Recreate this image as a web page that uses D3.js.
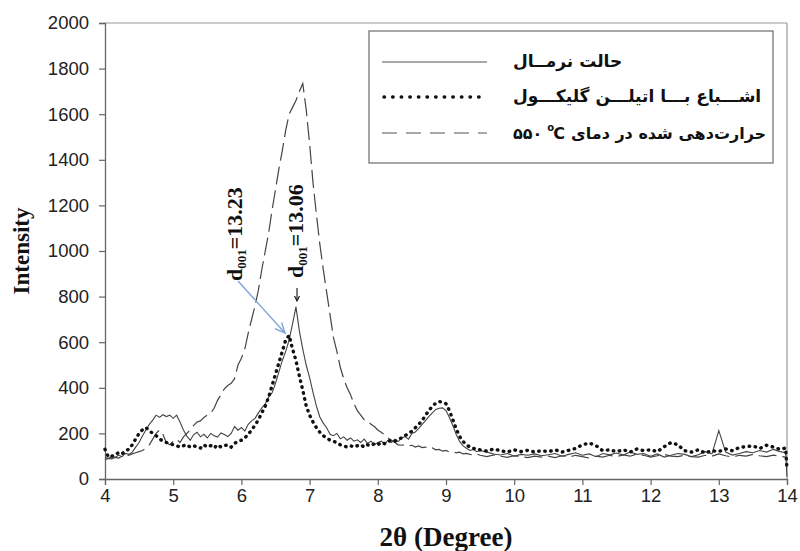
<!DOCTYPE html>
<html><head><meta charset="utf-8">
<script src="https://cdn.jsdelivr.net/npm/d3@7"></script>
<style>body{margin:0;background:#fff}svg{display:block}</style>
</head><body>
<svg id="chart" width="800" height="551"></svg>
<script>
// 2θ sampling positions
const xs = [
 4,4.05,4.1,4.15,4.2,4.25,4.3,4.35,4.4,4.45,
 4.5,4.55,4.6,4.65,4.7,4.75,4.8,4.85,4.9,4.95,
 5,5.05,5.1,5.15,5.2,5.25,5.3,5.35,5.4,5.45,
 5.5,5.55,5.6,5.65,5.7,5.75,5.8,5.85,5.9,5.95,
 6,6.05,6.1,6.15,6.2,6.25,6.3,6.35,6.4,6.45,
 6.5,6.55,6.6,6.65,6.7,6.75,6.8,6.85,6.9,6.95,
 7,7.05,7.1,7.15,7.2,7.25,7.3,7.35,7.4,7.45,
 7.5,7.55,7.6,7.65,7.7,7.75,7.8,7.85,7.9,7.95,
 8,8.05,8.1,8.15,8.2,8.25,8.3,8.35,8.4,8.45,
 8.5,8.55,8.6,8.65,8.7,8.75,8.8,8.85,8.9,8.95,
 9,9.05,9.1,9.15,9.2,9.25,9.3,9.35,9.4,9.45,
 9.5,9.6,9.7,9.8,9.9,10,10.1,10.2,10.3,10.4,
 10.5,10.6,10.7,10.8,10.9,11,11.1,11.2,11.3,11.4,
 11.5,11.6,11.7,11.8,11.9,12,12.1,12.2,12.3,12.4,
 12.5,12.6,12.7,12.8,12.9,13,13.1,13.2,13.3,13.4,
 13.5,13.6,13.7,13.8,13.9,13.98,14
];
// حالت نرمال (solid)
const normal = [
 95,90,100,95,105,98,112,108,118,140,
 160,190,215,240,258,280,270,282,274,280,
 266,280,250,215,188,170,195,205,185,196,
 180,200,190,184,202,195,186,200,230,214,
 226,210,240,255,266,290,312,330,360,378,
 420,470,520,560,610,680,755,650,570,500,
 445,380,320,272,245,225,196,190,200,176,
 185,170,180,166,172,160,175,156,166,150,
 160,166,154,170,160,175,164,180,186,175,
 200,206,222,240,256,275,290,305,310,312,
 300,270,235,195,165,145,135,125,130,120,
 125,118,110,105,112,100,108,104,110,102,
 106,112,100,108,115,104,110,98,112,106,
 114,105,118,108,112,100,110,96,104,112,
 108,98,106,120,110,212,118,105,112,120,
 115,125,118,130,120,115,10
];
// اشباع با اتیلن گلیکول (dotted)
const glycol = [
 130,96,100,106,116,110,125,130,150,176,
 200,216,226,212,200,190,176,166,160,156,
 150,146,140,146,150,140,146,140,136,150,
 140,146,136,150,140,146,150,140,156,166,
 170,180,196,215,236,260,290,320,360,410,
 460,510,560,610,630,570,520,450,390,320,
 280,250,225,205,190,180,170,165,160,150,
 145,140,146,140,146,150,140,150,146,155,
 150,160,155,165,170,165,175,180,190,200,
 210,225,240,256,280,300,320,332,340,336,
 330,300,260,220,186,165,150,140,135,130,
 128,122,132,124,118,128,120,126,118,124,
 120,128,118,126,134,150,158,146,124,128,
 120,128,118,132,124,128,120,142,160,150,
 124,118,128,114,124,120,132,124,138,142,
 145,134,148,140,130,136,40
];
// حرارت‌دهی شده در دمای ۵۵۰ °C (dashed)
const heated = [
 85,90,88,95,92,100,98,105,110,115,
 120,125,135,150,175,200,215,195,160,150,
 165,175,160,185,200,215,235,250,255,270,
 280,290,310,345,370,395,410,420,440,500,
 530,570,640,700,760,830,920,1000,1080,1180,
 1270,1360,1440,1530,1600,1630,1660,1700,1735,1620,
 1470,1300,1160,1030,920,820,720,620,560,490,
 440,400,370,330,300,280,260,255,240,230,
 215,205,195,180,170,160,150,148,150,145,
 148,140,145,138,140,132,136,128,130,122,
 125,118,120,115,118,110,112,108,105,110,
 104,98,106,100,95,102,98,94,100,96,
 100,94,102,96,104,98,92,100,96,104,
 98,106,100,110,104,96,102,108,100,98,
 104,98,96,104,100,110,102,96,104,100,
 108,102,98,105,100,96,95
];
const xTicks = [4,5,6,7,8,9,10,11,12,13,14];
const yTicks = [0,200,400,600,800,1000,1200,1400,1600,1800,2000];
const legendLabels = ["حالت نرمــال", "اشـــباع بـــا اتیلـــن گلیکـــول", "حرارت‌دهی شده در دمای"];
const legendTemp = "۵۵۰";
const annotations = [
  {peak: 13.23, label: "=13.23"},
  {peak: 13.06, label: "=13.06"}
];

const svg = d3.select("#chart");
const L = 105, R = 787, T = 23, B = 479;
const x = d3.scaleLinear().domain([4, 14]).range([L, R]);
const y = d3.scaleLinear().domain([0, 2000]).range([B, T]);

// frame (top/right)
svg.append("line").attr("x1", L).attr("x2", R).attr("y1", T).attr("y2", T).attr("stroke", "#999").attr("stroke-width", 1.2);
svg.append("line").attr("x1", R).attr("x2", R).attr("y1", T).attr("y2", B).attr("stroke", "#999").attr("stroke-width", 1.2);

const tickFont = "Liberation Sans, Arial, sans-serif";
const gx = svg.append("g").attr("transform", `translate(0,${B})`)
  .call(d3.axisBottom(x).tickValues(xTicks).tickSize(6).tickPadding(4).tickFormat(d3.format("d")));
const gy = svg.append("g").attr("transform", `translate(${L},0)`)
  .call(d3.axisLeft(y).tickValues(yTicks).tickSize(6).tickPadding(10).tickFormat(d3.format("d")));
[gx, gy].forEach(g => {
  g.select(".domain").attr("stroke", "#666").attr("stroke-width", 1.3);
  g.selectAll(".tick line").attr("stroke", "#666").attr("stroke-width", 1.2);
  g.selectAll(".tick text").attr("font-family", tickFont).attr("font-size", 18.5).attr("fill", "#222");
});

// series
const pts = arr => xs.map((v, i) => [v, arr[i]]);
const line = d3.line().x(d => x(d[0])).y(d => y(d[1]));
svg.append("path").datum(pts(heated)).attr("d", line).attr("fill", "none")
  .attr("stroke", "#444").attr("stroke-width", 1.2).attr("stroke-dasharray", "18,6");
svg.append("path").datum(pts(normal)).attr("d", line).attr("fill", "none")
  .attr("stroke", "#444").attr("stroke-width", 1.1);
svg.append("path").datum(pts(glycol)).attr("d", line).attr("fill", "none")
  .attr("stroke", "#111").attr("stroke-width", 3.4).attr("stroke-linecap", "round")
  .attr("stroke-dasharray", "0.5,5.6");

// axis titles
const serif = "Liberation Serif, Times New Roman, serif";
svg.append("text").attr("x", (L + R) / 2).attr("y", 546).attr("text-anchor", "middle")
  .attr("font-family", serif).attr("font-weight", "bold")
  .attr("font-size", 27).attr("fill", "#111").text("2θ (Degree)");
svg.append("text").attr("transform", `translate(29,${(T + B) / 2}) rotate(-90)`).attr("text-anchor", "middle")
  .attr("font-family", serif).attr("font-weight", "bold")
  .attr("font-size", 23).attr("fill", "#111").text("Intensity");

// annotations
const annPos = [[242, 281], [303, 278]];
annotations.forEach((a, i) => {
  const t = svg.append("text").attr("transform", `translate(${annPos[i][0]},${annPos[i][1]}) rotate(-90)`)
    .attr("font-family", serif).attr("font-weight", "bold").attr("font-size", 22).attr("fill", "#111");
  t.append("tspan").text("d");
  t.append("tspan").attr("font-size", 13).attr("dy", 4).text("001");
  t.append("tspan").attr("dy", -4).text(a.label);
});
// blue arrow to glycol peak
const ax0 = 238, ay0 = 281, ax1 = 285, ay1 = 333;
svg.append("line").attr("x1", ax0).attr("y1", ay0).attr("x2", ax1).attr("y2", ay1)
  .attr("stroke", "#7fa6d6").attr("stroke-width", 1.4);
const ang = Math.atan2(ay1 - ay0, ax1 - ax0);
const hl = 11, ha = 0.42;
svg.append("path").attr("d",
  `M${ax1 - hl * Math.cos(ang - ha)},${ay1 - hl * Math.sin(ang - ha)}L${ax1},${ay1}L${ax1 - hl * Math.cos(ang + ha)},${ay1 - hl * Math.sin(ang + ha)}`)
  .attr("fill", "none").attr("stroke", "#7fa6d6").attr("stroke-width", 1.4);
// small black arrow to normal peak
svg.append("line").attr("x1", 297).attr("y1", 288).attr("x2", 297).attr("y2", 300).attr("stroke", "#111").attr("stroke-width", 1.1);
svg.append("path").attr("d", "M294.5,296L297,301L299.5,296").attr("fill", "none").attr("stroke", "#111").attr("stroke-width", 1.1);

// legend
const lg = svg.append("g");
lg.append("rect").attr("x", 369).attr("y", 31).attr("width", 404).attr("height", 132)
  .attr("fill", "#fff").attr("stroke", "#777").attr("stroke-width", 1.3);
const rowY = [62, 97, 133];
const pers = "DejaVu Sans, sans-serif";
const fs = 17;
lg.append("line").attr("x1", 382).attr("x2", 487).attr("y1", rowY[0]).attr("y2", rowY[0]).attr("stroke", "#555").attr("stroke-width", 1.2);
lg.append("line").attr("x1", 384).attr("x2", 487).attr("y1", rowY[1]).attr("y2", rowY[1]).attr("stroke", "#111")
  .attr("stroke-width", 3.4).attr("stroke-linecap", "round").attr("stroke-dasharray", "0.5,8.1");
lg.append("line").attr("x1", 382).attr("x2", 487).attr("y1", rowY[2]).attr("y2", rowY[2]).attr("stroke", "#555")
  .attr("stroke-width", 1.2).attr("stroke-dasharray", "15,9");
lg.append("text").attr("x", 513).attr("y", rowY[0] + 5).attr("font-family", pers).attr("font-weight", "bold")
  .attr("font-size", fs).attr("fill", "#111").text(legendLabels[0]);
lg.append("text").attr("x", 513).attr("y", rowY[1] + 5).attr("font-family", pers).attr("font-weight", "bold")
  .attr("font-size", fs).attr("fill", "#111").text(legendLabels[1]);
const tNum = lg.append("text").attr("x", 513).attr("y", rowY[2] + 6).attr("font-family", pers).attr("font-weight", "bold")
  .attr("font-size", 16).attr("fill", "#111").text(legendTemp);
const nw = tNum.node().getComputedTextLength();
lg.append("text").attr("x", 513 + nw + 5).attr("y", rowY[2] - 2).attr("font-family", pers).attr("font-weight", "bold")
  .attr("font-size", 10).attr("fill", "#111").text("o");
const tC = lg.append("text").attr("x", 513 + nw + 11).attr("y", rowY[2] + 6).attr("font-family", pers).attr("font-weight", "bold")
  .attr("font-size", 16).attr("fill", "#111").text("C");
const cEnd = 513 + nw + 11 + tC.node().getComputedTextLength();
lg.append("text").attr("x", cEnd + 6).attr("y", rowY[2] + 6).attr("font-family", pers).attr("font-weight", "bold")
  .attr("font-size", 16).attr("fill", "#111").text(legendLabels[2]);
</script>
</body></html>
